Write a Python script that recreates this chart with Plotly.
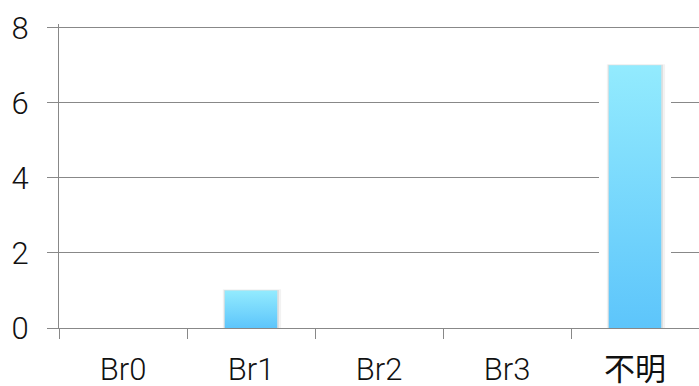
import plotly.graph_objects as go

categories = ["Br0", "Br1", "Br2", "Br3", "不明"]
values = [0, 1, 0, 0, 7]
y_ticks = [0, 2, 4, 6, 8]

BAR_W = 0.41          # visible bar width (category units)
GAP_W = 0.5625        # white halo width (category units)
GRID = "#888888"
TEXT = "#111111"

tick_text = [c if c.isascii() else '<span style="font-weight:400">' + c + '</span>'
             for c in categories]

xs = list(range(len(categories)))
fig = go.Figure()
# white halo that interrupts the gridlines around each bar
fig.add_trace(go.Bar(x=xs, y=values, width=GAP_W,
                     marker=dict(color="white", line=dict(width=0)),
                     hoverinfo="skip", showlegend=False))
# soft drop shadow (two layers), then the gradient bar
shadow_layers = [(0.030, 0.10, "rgba(0,0,0,0.05)"), (0.014, 0.05, "rgba(0,0,0,0.08)")]
for i, v in enumerate(values):
    if v <= 0:
        continue
    x0, x1 = i - BAR_W / 2, i + BAR_W / 2
    for dx, dy, col in shadow_layers:
        fig.add_trace(go.Scatter(
            x=[x0 - dx * 0.5, x1 + dx, x1 + dx, x0 - dx * 0.5, x0 - dx * 0.5],
            y=[-dy, -dy, v + dy * 0.3, v + dy * 0.3, -dy],
            mode="lines", line=dict(width=0, color="rgba(0,0,0,0)"),
            fill="toself", fillcolor=col,
            hoverinfo="skip", showlegend=False))
    fig.add_trace(go.Scatter(
        x=[x0, x1, x1, x0, x0], y=[0, 0, v, v, 0],
        mode="lines", line=dict(width=0, color="rgba(0,0,0,0)"),
        fill="toself",
        fillgradient=dict(type="vertical",
                          colorscale=[[0, "#5DC5FB"], [1, "#93EBFE"]]),
        hoverinfo="skip", showlegend=False))

fig.update_layout(
    width=699, height=386,
    margin=dict(l=59, r=0, t=24, b=58),
    paper_bgcolor="white", plot_bgcolor="white",
    barmode="overlay",
    font=dict(family="Roboto, Noto Sans CJK JP", size=31, color=TEXT, weight=300),
    showlegend=False,
)
fig.update_xaxes(
    range=[-0.5, len(categories) - 0.5],
    tickmode="array", tickvals=xs, ticktext=tick_text,
    ticks="", showgrid=False, zeroline=False,
    showline=True, linecolor=GRID, linewidth=1,
    minor=dict(tickmode="linear", tick0=-0.5, dtick=1, ticks="outside",
               ticklen=10, tickcolor=GRID, tickwidth=1, showgrid=False),
    ticklabelstandoff=14, automargin=False,
)
fig.update_yaxes(
    range=[0, 8.1], tickmode="array", tickvals=y_ticks,
    ticks="outside", ticklen=11, tickcolor=GRID, tickwidth=1,
    showgrid=True, gridcolor=GRID, gridwidth=1,
    zeroline=False, showline=True, linecolor=GRID, linewidth=1,
    ticklabelstandoff=12, automargin=False,
)
fig.write_html("out.html")
